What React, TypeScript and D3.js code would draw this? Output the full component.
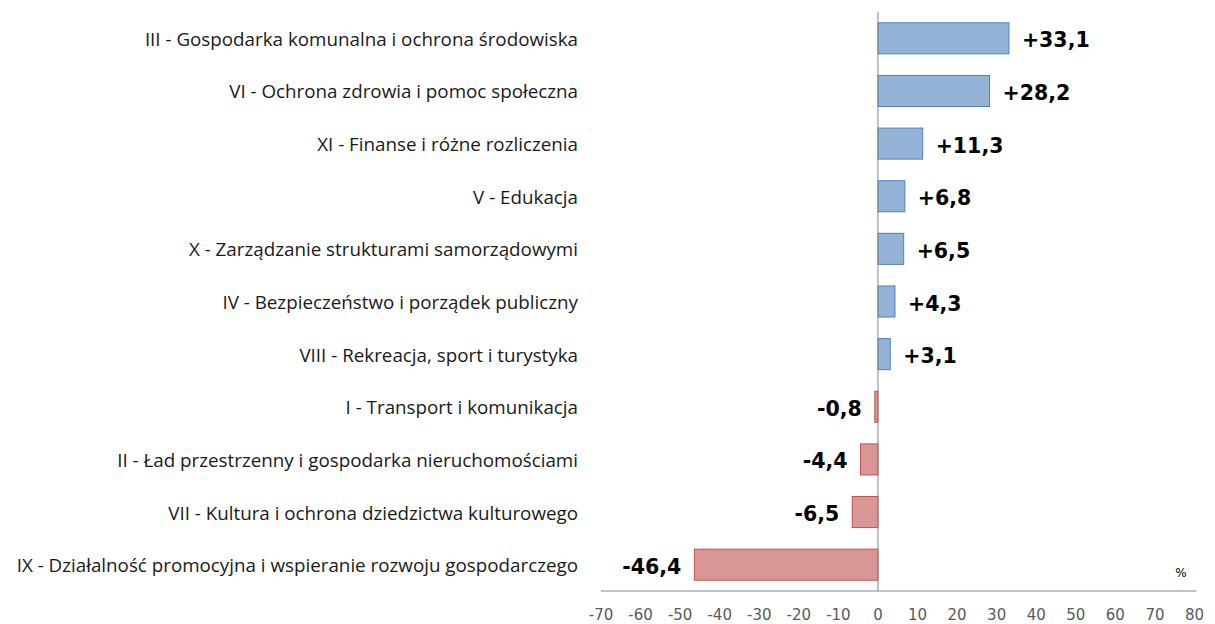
import React from "react";
import * as d3 from "d3";

const categories: string[] = [
  "III - Gospodarka komunalna i ochrona środowiska",
  "VI - Ochrona zdrowia i pomoc społeczna",
  "XI - Finanse i różne rozliczenia",
  "V - Edukacja",
  "X - Zarządzanie strukturami samorządowymi",
  "IV - Bezpieczeństwo i porządek publiczny",
  "VIII - Rekreacja, sport i turystyka",
  "I - Transport i komunikacja",
  "II - Ład przestrzenny i gospodarka nieruchomościami",
  "VII - Kultura i ochrona dziedzictwa kulturowego",
  "IX - Działalność promocyjna i wspieranie rozwoju gospodarczego",
];
const values: number[] = [33.1, 28.2, 11.3, 6.8, 6.5, 4.3, 3.1, -0.8, -4.4, -6.5, -46.4];
const tickValues: number[] = [-70, -60, -50, -40, -30, -20, -10, 0, 10, 20, 30, 40, 50, 60, 70, 80];
const unitLabel = "%";

const W = 1215;
const H = 624;

export default function App() {
  const x = d3.scaleLinear().domain([-70, 80]).range([601, 1194.5]);
  const y = d3
    .scaleBand<string>()
    .domain(categories)
    .range([12, 591])
    .paddingInner(0.41)
    .paddingOuter(0.205);
  const fmt = (v: number) => (v > 0 ? "+" : "") + v.toFixed(1).replace(".", ",");
  const x0 = x(0);
  return (
    <svg
      width={W}
      height={H}
      style={{ position: "absolute", left: 0, top: 0, background: "#fff" }}
    >
      {categories.map((c, i) => {
        const v = values[i];
        const pos = v >= 0;
        const xa = Math.min(x(v), x0);
        const w = Math.abs(x(v) - x0);
        return (
          <rect
            key={c}
            x={xa}
            y={y(c)!}
            width={w}
            height={y.bandwidth()}
            fill={pos ? "#95B3D7" : "#DA9694"}
            stroke={pos ? "#4F81BD" : "#C0504D"}
            strokeWidth={1}
          />
        );
      })}
      <line x1={x0} x2={x0} y1={12} y2={591} stroke="#868686" strokeWidth={1} />
      <line x1={x(-70)} x2={x(80) + 2} y1={591} y2={591} stroke="#868686" strokeWidth={1} />
      {tickValues.map((t) => (
        <text
          key={t}
          x={x(t)}
          y={620}
          textAnchor="middle"
          fontFamily="'DejaVu Sans', Verdana, sans-serif"
          fontSize={15}
          fill="#595959"
        >
          {String(t)}
        </text>
      ))}
      {categories.map((c) => (
        <text
          key={c}
          x={578}
          y={y(c)! + y.bandwidth() / 2 + 7.5}
          textAnchor="end"
          fontFamily="'Open Sans', sans-serif"
          fontSize={18.8}
          fill="#1a1a1a"
        >
          {c}
        </text>
      ))}
      {categories.map((c, i) => {
        const v = values[i];
        const pos = v >= 0;
        return (
          <text
            key={c}
            x={pos ? x(v) + 13 : x(v) - 13}
            y={y(c)! + y.bandwidth() / 2 + 9}
            textAnchor={pos ? "start" : "end"}
            fontFamily="'DejaVu Sans', Verdana, sans-serif"
            fontWeight="bold"
            fontSize={20.5}
            fill="#000"
          >
            {fmt(v)}
          </text>
        );
      })}
      <text
        x={1181}
        y={577}
        textAnchor="middle"
        fontFamily="'DejaVu Sans', Verdana, sans-serif"
        fontSize={12}
        fill="#000"
      >
        {unitLabel}
      </text>
    </svg>
  );
}
